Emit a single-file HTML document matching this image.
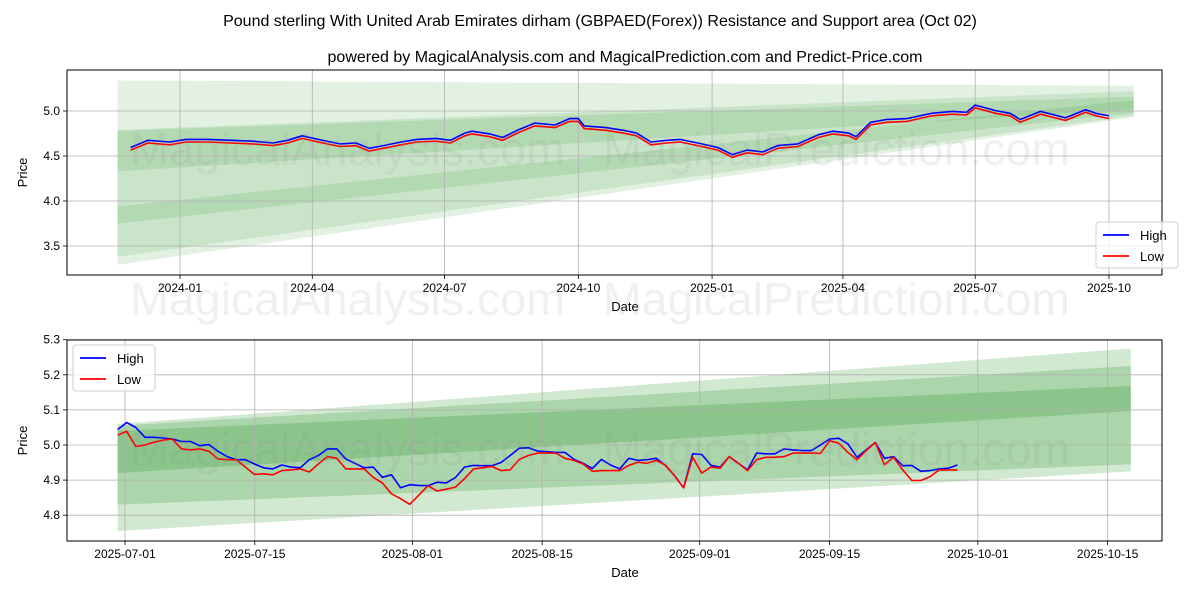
<!DOCTYPE html>
<html><head><meta charset="utf-8"><style>
body{margin:0;background:#fff;}
svg{display:block;font-family:"Liberation Sans","DejaVu Sans",sans-serif;}
</style></head><body>
<svg id="c" width="1200" height="600" viewBox="0 0 1200 600">
<rect width="1200" height="600" fill="#fff"/>
<text x="600" y="26" text-anchor="middle" font-size="16">Pound sterling With United Arab Emirates dirham (GBPAED(Forex)) Resistance and Support area (Oct 02)</text>
<text x="625" y="62" text-anchor="middle" font-size="16">powered by MagicalAnalysis.com and MagicalPrediction.com and Predict-Price.com</text>
<g id="top"></g>
<g id="bot"></g>
<g font-size="46" fill="#888" fill-opacity="0.13">
<text x="130" y="165" textLength="435" lengthAdjust="spacingAndGlyphs">MagicalAnalysis.com</text><text x="603" y="165" textLength="467" lengthAdjust="spacingAndGlyphs">MagicalPrediction.com</text>
<text x="130" y="315" textLength="435" lengthAdjust="spacingAndGlyphs">MagicalAnalysis.com</text><text x="603" y="315" textLength="467" lengthAdjust="spacingAndGlyphs">MagicalPrediction.com</text>
<text x="130" y="465" textLength="435" lengthAdjust="spacingAndGlyphs">MagicalAnalysis.com</text><text x="603" y="465" textLength="467" lengthAdjust="spacingAndGlyphs">MagicalPrediction.com</text>
</g>
</svg>
<script>
// ---- Top chart data ----
const topDates=["2023-11-28","2023-12-10","2023-12-25","2024-01-05","2024-01-20","2024-02-05","2024-02-20","2024-03-05","2024-03-15","2024-03-25","2024-04-05","2024-04-20","2024-05-01","2024-05-10","2024-05-20","2024-06-01","2024-06-12","2024-06-25","2024-07-05","2024-07-15","2024-07-20","2024-08-01","2024-08-10","2024-08-20","2024-09-01","2024-09-15","2024-09-25","2024-10-01","2024-10-05","2024-10-20","2024-11-01","2024-11-10","2024-11-20","2024-12-01","2024-12-10","2024-12-25","2025-01-05","2025-01-15","2025-01-25","2025-02-05","2025-02-15","2025-03-01","2025-03-15","2025-03-25","2025-04-05","2025-04-10","2025-04-20","2025-05-01","2025-05-15","2025-06-01","2025-06-15","2025-06-25","2025-07-01","2025-07-15","2025-07-25","2025-08-01","2025-08-15","2025-09-01","2025-09-15","2025-09-22","2025-10-01"];
const topHigh=[4.595,4.675,4.655,4.685,4.685,4.675,4.665,4.645,4.675,4.725,4.685,4.635,4.645,4.585,4.615,4.655,4.685,4.695,4.675,4.755,4.775,4.745,4.705,4.785,4.865,4.845,4.915,4.915,4.835,4.815,4.785,4.755,4.655,4.675,4.685,4.635,4.595,4.515,4.565,4.545,4.615,4.635,4.735,4.775,4.755,4.715,4.875,4.905,4.915,4.975,4.995,4.985,5.065,5.005,4.975,4.905,4.995,4.925,5.015,4.975,4.945];
const topLow=[4.565,4.645,4.625,4.655,4.655,4.645,4.635,4.615,4.645,4.695,4.655,4.605,4.615,4.555,4.585,4.625,4.655,4.665,4.645,4.725,4.745,4.715,4.675,4.755,4.835,4.815,4.885,4.885,4.805,4.785,4.755,4.725,4.625,4.645,4.655,4.605,4.565,4.485,4.535,4.515,4.585,4.605,4.705,4.745,4.725,4.685,4.845,4.875,4.885,4.945,4.965,4.955,5.035,4.975,4.945,4.875,4.965,4.895,4.985,4.945,4.915];
const topBandsLeft=[[5.34,3.29],[4.79,3.38],[4.78,4.33],[3.94,3.75]];
const topBandsRight=[[5.28,4.93],[5.22,4.95],[5.16,5.02],[5.12,4.98]];
const topYTicks=[3.5,4.0,4.5,5.0];
const topXTicks=["2024-01","2024-04","2024-07","2024-10","2025-01","2025-04","2025-07","2025-10"];
// ---- Bottom chart data ----
const botHigh=[5.044,5.064,5.050,5.022,5.022,5.020,5.017,5.010,5.010,4.998,5.001,4.982,4.967,4.958,4.958,4.946,4.935,4.932,4.943,4.937,4.935,4.958,4.970,4.989,4.989,4.960,4.948,4.935,4.937,4.908,4.915,4.878,4.887,4.885,4.884,4.894,4.892,4.907,4.937,4.942,4.941,4.941,4.950,4.970,4.991,4.992,4.983,4.981,4.979,4.979,4.959,4.948,4.933,4.959,4.943,4.932,
4.962,4.956,4.958,4.962,4.942,4.913,4.878,4.975,4.973,4.942,4.937,4.967,4.948,4.929,4.977,4.975,4.975,4.989,4.986,4.984,4.984,5.000,5.017,5.019,5.003,4.965,4.986,5.007,4.962,4.967,4.941,4.942,4.925,4.927,4.932,4.934,4.943];
const botLow=[5.028,5.039,4.996,5.000,5.008,5.014,5.017,4.989,4.986,4.989,4.982,4.960,4.958,4.958,4.937,4.916,4.918,4.915,4.927,4.929,4.932,4.923,4.946,4.967,4.962,4.932,4.932,4.932,4.908,4.892,4.861,4.847,4.831,4.857,4.884,4.869,4.874,4.880,4.904,4.932,4.935,4.939,4.927,4.929,4.959,4.970,4.977,4.977,4.977,4.962,4.956,4.946,4.925,4.927,4.927,4.927,
4.942,4.951,4.948,4.956,4.943,4.913,4.878,4.965,4.920,4.937,4.934,4.967,4.948,4.927,4.958,4.965,4.965,4.967,4.977,4.977,4.977,4.976,5.012,5.005,4.979,4.958,4.984,5.007,4.944,4.965,4.929,4.899,4.899,4.910,4.929,4.929,4.929];
const botStartDay=-0.8, botEndDay=89.8;
const botBandsLeft=[[5.06,4.755],[5.055,4.83],[5.04,4.92]];
const botBandsRight=[[5.275,4.925],[5.225,4.945],[5.168,5.097]];
const botYTicks=[4.8,4.9,5.0,5.1,5.2,5.3];
const botXTicks=["2025-07-01","2025-07-15","2025-08-01","2025-08-15","2025-09-01","2025-09-15","2025-10-01","2025-10-15"];

const NS="http://www.w3.org/2000/svg";
function mk(parent,tag,attrs){const e=document.createElementNS(NS,tag);for(const k in attrs)e.setAttribute(k,attrs[k]);parent.appendChild(e);return e;}
function dayOf(s,base){return (new Date(s+(s.length==7?"-01":"")+"T00:00:00Z")-new Date(base+"T00:00:00Z"))/86400000;}

function drawAxes(g,L,R,T,B,xt,yt,xs,ys){
  xt.forEach(t=>{const x=xs(t.d);
    const l=mk(g,'line',{x1:x,x2:x,y1:T,y2:B,stroke:'#b0b0b0','stroke-width':0.8});
    
    mk(g,'line',{x1:x,x2:x,y1:B,y2:B+4,stroke:'#000','stroke-width':0.8});
    const tx=mk(g,'text',{x:x,y:B+17,'text-anchor':'middle','font-size':12});tx.textContent=t.s;
    });
  yt.forEach(v=>{const y=ys(v);
    const l=mk(g,'line',{x1:L,x2:R,y1:y,y2:y,stroke:'#b0b0b0','stroke-width':0.8});
    
    mk(g,'line',{x1:L-4,x2:L,y1:y,y2:y,stroke:'#000','stroke-width':0.8});
    const tx=mk(g,'text',{x:L-7,y:y+4,'text-anchor':'end','font-size':12});tx.textContent=v.toFixed(1);
    });
}
function drawBands(g,bl,br,x0,x1,ys,op){
  bl.forEach((b,i)=>{const r=br[i];
    const p=mk(g,'polygon',{points:`${x0},${ys(b[0])} ${x1},${ys(r[0])} ${x1},${ys(r[1])} ${x0},${ys(b[1])}`,fill:'#008000','fill-opacity':op});
    });
}
function drawLine(g,xsArr,vals,ys,color,name){
  const pts=vals.map((v,i)=>xsArr[i].toFixed(1)+','+ys(v).toFixed(1)).join(' ');
  const p=mk(g,'polyline',{points:pts,fill:'none',stroke:color,'stroke-width':1.6,'stroke-linejoin':'round'});
  
}
function legend(g,x,y){
  const r=mk(g,'rect',{x:x,y:y,width:82,height:46,rx:3,fill:'#fff','fill-opacity':0.8,stroke:'#d0d0d0'});
  
  [['High','#0000ff',0],['Low','#ff0000',1]].forEach(([n,c,i])=>{
    mk(g,'line',{x1:x+7,x2:x+33,y1:y+13+i*21,y2:y+13+i*21,stroke:c,'stroke-width':1.8});
    const t=mk(g,'text',{x:x+44,y:y+18+i*21,'font-size':13});t.textContent=n;
    });
}
function frame(g,L,R,T,B,cx){
  mk(g,'rect',{x:L,y:T,width:R-L,height:B-T,fill:'none',stroke:'#000','stroke-width':1});
  const a=mk(g,'text',{x:cx,y:B+36,'text-anchor':'middle','font-size':13});a.textContent='Date';
  
  const b=mk(g,'text',{x:0,y:0,'text-anchor':'middle','font-size':13,transform:`translate(27,${(T+B)/2}) rotate(-90)`});b.textContent='Price';
  
}
// Top
(function(){
  const g=document.getElementById('top');const L=67,R=1162,T=70,B=275;
  const xs=d=>180+d*1.4538, ys=v=>111-(v-5.0)*90;
  drawBands(g,topBandsLeft,topBandsRight,xs(-43),xs(656),ys,0.11);
  drawAxes(g,L,R,T,B,topXTicks.map(s=>({s:s,d:dayOf(s,"2024-01-01")})),topYTicks,xs,ys);
  const xa=topDates.map(s=>xs(dayOf(s,"2024-01-01")));
  drawLine(g,xa,topHigh,ys,'#0000ff','high-line');
  drawLine(g,xa,topLow,ys,'#ff0000','low-line');
  frame(g,L,R,T,B,625);
  legend(g,1096,222);
})();
// Bottom
(function(){
  const g=document.getElementById('bot');const L=67,R=1162,T=340,B=541;
  const xs=d=>125+d*9.27, ys=v=>445-(v-5.0)*351;
  drawBands(g,botBandsLeft,botBandsRight,xs(-0.8),xs(108.5),ys,0.18);
  drawAxes(g,L,R,T,B,botXTicks.map(s=>({s:s,d:dayOf(s,"2025-07-01")})),botYTicks,xs,ys);
  const n=botHigh.length;
  const xa=botHigh.map((v,i)=>xs(botStartDay+i*(botEndDay-botStartDay)/(n-1)));
  drawLine(g,xa,botHigh,ys,'#0000ff','high-line');
  drawLine(g,xa,botLow,ys,'#ff0000','low-line');
  frame(g,L,R,T,B,625);
  legend(g,73,345);
})();
</script>
</body></html>
